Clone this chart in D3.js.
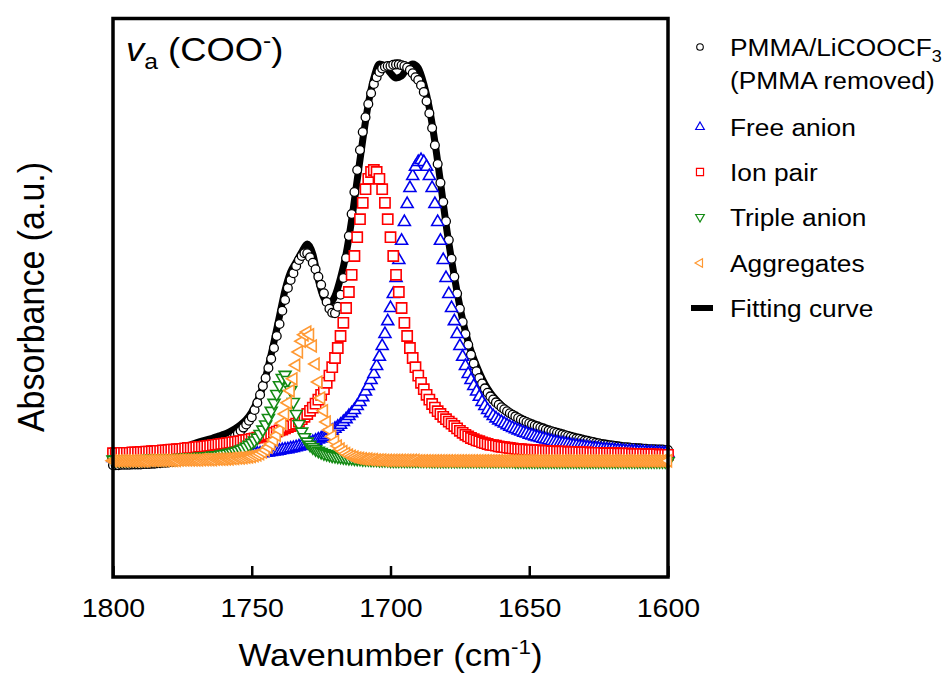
<!DOCTYPE html>
<html>
<head>
<meta charset="utf-8">
<script src="https://cdn.jsdelivr.net/npm/d3@7"></script>
<style>
  body { margin: 0; background: #ffffff; }
  svg { display: block; font-family: "Liberation Sans", Arial, sans-serif; }
</style>
</head>
<body>
<div id="chart"></div>
<script>
'use strict';

// measured spectrum grid: 1 cm-1 steps from 1800 down to 1600
const wavenumbers = d3.range(1800, 1599, -1);
// fitting curve read every 2 cm-1
const fitWavenumbers = d3.range(1800, 1599, -2);

// PMMA/LiCOOCF3 (PMMA removed), open circles
const measured = [
  -.008, -.008, -.008, -.007, -.007, -.007, -.007, -.006, -.006, -.006,
  -.006, -.005, -.005, -.005, -.004, -.004, -.003, -.003, -.002, -.002,
  -.001, .000, .001, .002, .003, .004, .005, .006, .008, .010,
  .012, .014, .016, .019, .022, .025, .028, .032, .036, .040,
  .045, .050, .056, .060, .065, .071, .078, .086, .094, .103,
  .112, .130, .148, .168, .190, .210, .235, .258, .285, .315,
  .345, .378, .405, .435, .455, .472, .490, .505, .515, .522,
  .522, .512, .498, .482, .463, .443, .422, .400, .383, .373,
  .372, .388, .418, .460, .510, .565, .620, .675, .730, .780,
  .825, .862, .895, .922, .945, .962, .975, .984, .988, .990,
  .990, .993, .994, .994, .992, .990, .986, .980, .972, .962,
  .955, .942, .925, .902, .872, .835, .792, .745, .698, .650,
  .602, .555, .508, .463, .421, .383, .350, .320, .293, .268,
  .246, .227, .210, .196, .184, .173, .164, .156, .149, .143,
  .137, .132, .127, .122, .118, .114, .110, .106, .103, .100,
  .097, .094, .091, .089, .086, .084, .081, .079, .077, .075,
  .073, .071, .069, .067, .065, .063, .061, .059, .058, .056,
  .054, .053, .051, .050, .048, .047, .045, .044, .043, .042,
  .041, .040, .039, .038, .037, .037, .036, .035, .035, .034,
  .034, .033, .033, .032, .032, .032, .031, .031, .031, .030,
  .030
];

// Free anion, blue up-triangles
const freeAnion = [
  .010, .010, .010, .010, .010, .010, .010, .010, .010, .010,
  .010, .010, .011, .011, .011, .011, .011, .011, .011, .011,
  .011, .011, .011, .012, .012, .012, .012, .012, .012, .012,
  .012, .013, .013, .013, .013, .014, .014, .014, .015, .015,
  .015, .016, .016, .016, .017, .017, .018, .018, .019, .019,
  .019, .020, .021, .021, .022, .023, .024, .025, .026, .027,
  .028, .030, .031, .032, .034, .035, .037, .039, .040, .042,
  .045, .047, .050, .053, .056, .059, .063, .067, .072, .078,
  .083, .088, .093, .100, .107, .115, .122, .130, .140, .150,
  .162, .176, .190, .205, .220, .240, .263, .290, .320, .352,
  .385, .420, .460, .505, .553, .600, .645, .685, .715, .738,
  .750, .755, .750, .738, .715, .685, .645, .600, .553, .505,
  .460, .420, .385, .352, .320, .290, .263, .240, .220, .205,
  .190, .176, .163, .150, .140, .130, .122, .115, .109, .104,
  .100, .096, .092, .088, .085, .082, .079, .076, .073, .071,
  .068, .066, .064, .062, .060, .058, .056, .054, .052, .050,
  .049, .047, .046, .045, .044, .042, .041, .040, .039, .038,
  .037, .036, .035, .034, .034, .033, .032, .031, .031, .030,
  .030, .029, .029, .028, .028, .027, .027, .026, .026, .025,
  .025, .025, .024, .024, .024, .023, .023, .023, .022, .022,
  .022
];

// Ion pair, red squares
const ionPair = [
  .022, .022, .022, .023, .023, .023, .023, .024, .024, .024,
  .025, .025, .026, .026, .027, .027, .028, .028, .029, .029,
  .030, .031, .031, .032, .032, .033, .034, .035, .035, .036,
  .037, .038, .038, .039, .040, .041, .042, .043, .044, .045,
  .046, .047, .048, .049, .050, .051, .052, .054, .055, .056,
  .058, .059, .061, .063, .065, .067, .069, .071, .073, .076,
  .079, .081, .084, .087, .090, .093, .096, .101, .107, .113,
  .120, .128, .136, .146, .156, .168, .182, .198, .216, .237,
  .260, .285, .315, .348, .385, .425, .468, .515, .562, .607,
  .648, .682, .708, .725, .730, .725, .708, .682, .648, .607,
  .562, .515, .468, .425, .385, .348, .315, .285, .260, .237,
  .216, .198, .182, .168, .156, .145, .136, .127, .120, .113,
  .107, .101, .096, .090, .084, .078, .073, .068, .064, .060,
  .057, .054, .052, .049, .047, .045, .043, .042, .041, .039,
  .038, .037, .036, .035, .034, .033, .032, .032, .031, .031,
  .030, .030, .029, .029, .029, .028, .028, .028, .027, .027,
  .026, .026, .026, .026, .025, .025, .025, .025, .024, .024,
  .024, .024, .023, .023, .023, .023, .023, .022, .022, .022,
  .022, .022, .021, .021, .021, .021, .021, .020, .020, .020,
  .020, .020, .019, .019, .019, .019, .019, .018, .018, .018,
  .018
];

// Triple anion, green down-triangles
const tripleAnion = [
  .006, .006, .006, .006, .006, .006, .007, .007, .007, .007,
  .007, .007, .007, .008, .008, .008, .008, .008, .008, .008,
  .008, .009, .009, .009, .010, .010, .010, .011, .011, .012,
  .012, .013, .013, .014, .014, .015, .016, .016, .017, .019,
  .020, .021, .023, .024, .026, .028, .031, .034, .038, .043,
  .048, .054, .061, .070, .081, .094, .110, .128, .148, .170,
  .192, .210, .218, .205, .180, .150, .120, .095, .076, .062,
  .051, .043, .037, .032, .028, .025, .022, .020, .018, .016,
  .015, .014, .013, .012, .011, .010, .010, .009, .008, .008,
  .007, .007, .007, .006, .006, .006, .005, .005, .005, .005,
  .004, .004, .004, .004, .004, .004, .004, .004, .004, .004,
  .004, .004, .004, .004, .004, .003, .003, .003, .003, .003,
  .003, .003, .003, .003, .003, .003, .003, .003, .003, .003,
  .003, .003, .003, .003, .003, .003, .003, .003, .003, .003,
  .003, .003, .003, .003, .003, .002, .002, .002, .002, .002,
  .002, .002, .002, .002, .002, .002, .002, .002, .002, .002,
  .002, .002, .002, .002, .002, .002, .002, .002, .002, .002,
  .002, .002, .002, .002, .002, .002, .002, .002, .002, .002,
  .002, .002, .002, .002, .002, .002, .002, .002, .002, .002,
  .002, .002, .002, .002, .002, .002, .002, .002, .002, .002,
  .002
];

// Aggregates, orange left-triangles
const aggregates = [
  .003, .003, .003, .003, .003, .003, .003, .003, .003, .003,
  .003, .003, .003, .004, .004, .004, .004, .004, .004, .004,
  .004, .004, .004, .004, .005, .005, .005, .005, .005, .005,
  .005, .005, .006, .006, .006, .006, .006, .007, .007, .007,
  .007, .008, .008, .009, .009, .010, .010, .011, .012, .013,
  .014, .016, .018, .021, .025, .030, .037, .045, .055, .067,
  .080, .097, .120, .148, .178, .208, .242, .275, .302, .318,
  .325, .318, .290, .245, .200, .160, .128, .100, .080, .064,
  .051, .040, .032, .026, .021, .017, .014, .012, .010, .009,
  .008, .007, .007, .006, .006, .005, .005, .005, .004, .004,
  .004, .004, .004, .004, .004, .004, .004, .004, .004, .004,
  .003, .003, .003, .003, .003, .003, .003, .003, .003, .003,
  .003, .003, .003, .003, .003, .003, .003, .003, .003, .003,
  .003, .003, .003, .003, .003, .003, .003, .003, .003, .003,
  .003, .003, .003, .003, .003, .003, .003, .003, .003, .003,
  .003, .003, .003, .003, .003, .003, .003, .003, .003, .003,
  .003, .003, .003, .003, .003, .003, .003, .003, .003, .003,
  .003, .003, .003, .003, .003, .003, .003, .003, .003, .003,
  .003, .003, .003, .003, .003, .003, .003, .003, .003, .003,
  .003, .003, .003, .003, .003, .003, .003, .003, .003, .003,
  .003
];

// Fitting curve (thick black line), one value per 2 cm-1
const fittingCurve = [
  .023, .024, .025, .026, .027, .028, .029, .030, .031, .032,
  .034, .035, .037, .039, .043, .048, .052, .056, .060, .065,
  .069, .075, .083, .093, .106, .125, .152, .188, .240, .300,
  .365, .430, .475, .500, .525, .545, .520, .455, .410, .398,
  .415, .460, .520, .605, .705, .805, .895, .960, .995, .990,
  .972, .960, .965, .985, .995, .985, .945, .885, .800, .700,
  .595, .505, .425, .355, .300, .258, .224, .195, .173, .156,
  .142, .130, .120, .112, .104, .097, .091, .086, .081, .077,
  .073, .069, .065, .061, .058, .055, .052, .049, .046, .044,
  .042, .040, .038, .036, .035, .034, .033, .032, .031, .030,
  .029
];

const xTicks = [1800, 1750, 1700, 1650, 1600];
const xDomain = [1800, 1600];
const yDomain = [-0.2875, 1.10875];

const componentNames = ['Free anion', 'Ion pair', 'Triple anion', 'Aggregates'];
const componentValues = [freeAnion, ionPair, tripleAnion, aggregates];
const componentColors = ['#0000ee', '#ff0000', '#138a13', '#ff9933'];
// marker shape and rotation (degrees) for each component
const componentShapes = [d3.symbolTriangle, d3.symbolSquare, d3.symbolTriangle, d3.symbolTriangle];
const componentRotations = [0, 0, 180, -90];

//------------------------------------------------------------
// spectrum chart, kept in its own scope
//------------------------------------------------------------
{ // start scope

function SpectrumChart(rootSelector) {
    this.rootSelector = rootSelector;
    this.width = 951;
    this.height = 673;
    this.plot = { left: 113, right: 668, top: 18.5, bottom: 577 };
    // the source figure is stretched sideways, text follows that
    this.stretch = 1.12;

    this.mySvg = null;
    this.xScale = null;
    this.yScale = null;

    this.buildScales = () => {
        this.xScale = d3.scaleLinear().domain(xDomain).range([this.plot.left, this.plot.right]);
        this.yScale = d3.scaleLinear().domain(yDomain).range([this.plot.bottom, this.plot.top]);
    };

    this.drawFit = () => {
        let points = fitWavenumbers.map((w, i) => [w, fittingCurve[i]]);
        let line = d3.line()
            .x(d => this.xScale(d[0]))
            .y(d => this.yScale(d[1]))
            .curve(d3.curveMonotoneX);
        this.mySvg.append('path')
            .datum(points)
            .attr('d', line)
            .attr('fill', 'none')
            .attr('stroke', '#000000')
            .attr('stroke-width', 7)
            .attr('stroke-linejoin', 'round');
    };

    this.drawMeasured = () => {
        this.mySvg.append('g')
            .selectAll('circle')
            .data(wavenumbers.map((w, i) => [w, measured[i]]))
            .enter()
            .append('circle')
            .attr('cx', d => this.xScale(d[0]))
            .attr('cy', d => this.yScale(d[1]))
            .attr('r', 4.4)
            .attr('fill', '#ffffff')
            .attr('stroke', '#000000')
            .attr('stroke-width', 1.3);
    };

    this.drawComponent = (k) => {
        let symbol = d3.symbol().type(componentShapes[k]).size(k === 1 ? 105 : 62);
        this.mySvg.append('g')
            .selectAll('path')
            .data(wavenumbers.map((w, i) => [w, componentValues[k][i]]))
            .enter()
            .append('path')
            .attr('d', symbol)
            .attr('transform', d => 'translate(' + this.xScale(d[0]) + ',' + this.yScale(d[1]) + ')' +
                                    ' rotate(' + componentRotations[k] + ')')
            .attr('fill', '#ffffff')
            .attr('stroke', componentColors[k])
            .attr('stroke-width', 1.6);
    };

    this.drawFrame = () => {
        this.mySvg.append('rect')
            .attr('x', this.plot.left)
            .attr('y', this.plot.top)
            .attr('width', this.plot.right - this.plot.left)
            .attr('height', this.plot.bottom - this.plot.top)
            .attr('fill', 'none')
            .attr('stroke', '#000000')
            .attr('stroke-width', 3.5);

        let axis = d3.axisBottom(this.xScale)
            .tickValues(xTicks)
            .tickSizeInner(-11)
            .tickSizeOuter(0)
            .tickPadding(22)
            .tickFormat(d3.format('d'));

        let g = this.mySvg.append('g')
            .attr('transform', 'translate(0,' + this.plot.bottom + ')')
            .call(axis)
            .attr('font-family', null)
            .attr('font-size', null);
        g.select('.domain').remove();
        g.selectAll('.tick line').attr('stroke', '#000000').attr('stroke-width', 2.5);
        g.selectAll('.tick text')
            .attr('fill', '#000000')
            .attr('font-size', 25.5)
            .attr('transform', 'scale(' + this.stretch + ',1)');
    };

    this.drawTitles = () => {
        let s = this.stretch;

        let xt = this.mySvg.append('text')
            .attr('transform', 'translate(' + (this.plot.left + this.plot.right) / 2 + ',666) scale(' + s + ',1)')
            .attr('text-anchor', 'middle')
            .attr('font-size', 31);
        xt.append('tspan').text('Wavenumber (cm');
        xt.append('tspan').attr('font-size', 20).attr('dy', -12).text('-1');
        xt.append('tspan').attr('dy', 12).text(')');

        this.mySvg.append('text')
            .attr('transform', 'translate(44,297) scale(1.06,1) rotate(-90)')
            .attr('text-anchor', 'middle')
            .attr('font-size', 34)
            .text('Absorbance (a.u.)');

        let band = this.mySvg.append('text')
            .attr('transform', 'translate(126,61) scale(' + s + ',1)')
            .attr('font-size', 32.5);
        band.append('tspan').attr('font-style', 'italic').text('v');
        band.append('tspan').attr('font-size', 22).attr('dy', 8).text('a');
        band.append('tspan').attr('dy', -8).text(' (COO');
        band.append('tspan').attr('font-size', 22).attr('dy', -13).text('-');
        band.append('tspan').attr('dy', 13).text(')');
    };

    this.drawLegend = () => {
        let s = this.stretch;
        let symX = 700;
        let textX = 730;
        let rows = [127, 172, 217, 263];
        let g = this.mySvg.append('g').attr('font-size', 23.5);

        let addLabel = (y) => {
            return g.append('text')
                .attr('transform', 'translate(' + textX + ',' + (y + 8.5) + ') scale(' + s + ',1)');
        };

        // measured spectrum, two lines of text
        g.append('circle')
            .attr('cx', symX).attr('cy', 47).attr('r', 3.3)
            .attr('fill', '#ffffff').attr('stroke', '#000000').attr('stroke-width', 1.1);
        let t1 = addLabel(47);
        t1.append('tspan').text('PMMA/LiCOOCF');
        t1.append('tspan').attr('font-size', 16).attr('dy', 6).text('3');
        addLabel(80).text('(PMMA removed)');

        componentNames.forEach((name, k) => {
            let symbol = d3.symbol().type(componentShapes[k]).size(k === 1 ? 50 : 32);
            g.append('path')
                .attr('d', symbol)
                .attr('transform', 'translate(' + symX + ',' + rows[k] + ') rotate(' + componentRotations[k] + ')')
                .attr('fill', '#ffffff')
                .attr('stroke', componentColors[k])
                .attr('stroke-width', 1.2);
            addLabel(rows[k]).text(name);
        });

        g.append('line')
            .attr('x1', symX - 9).attr('x2', symX + 13)
            .attr('y1', 308).attr('y2', 308)
            .attr('stroke', '#000000')
            .attr('stroke-width', 6);
        addLabel(308).text('Fitting curve');
    };

    this.render = () => {
        this.mySvg = d3.select(this.rootSelector)
            .append('svg')
            .attr('width', this.width)
            .attr('height', this.height);

        this.buildScales();
        this.drawFit();
        this.drawMeasured();
        for (let k = 0; k < componentValues.length; ++k) {
            this.drawComponent(k);
        }
        this.drawFrame();
        this.drawTitles();
        this.drawLegend();
    };
}

let spectrumChart = new SpectrumChart('#chart');
spectrumChart.render();

} // end scope
</script>
</body>
</html>
